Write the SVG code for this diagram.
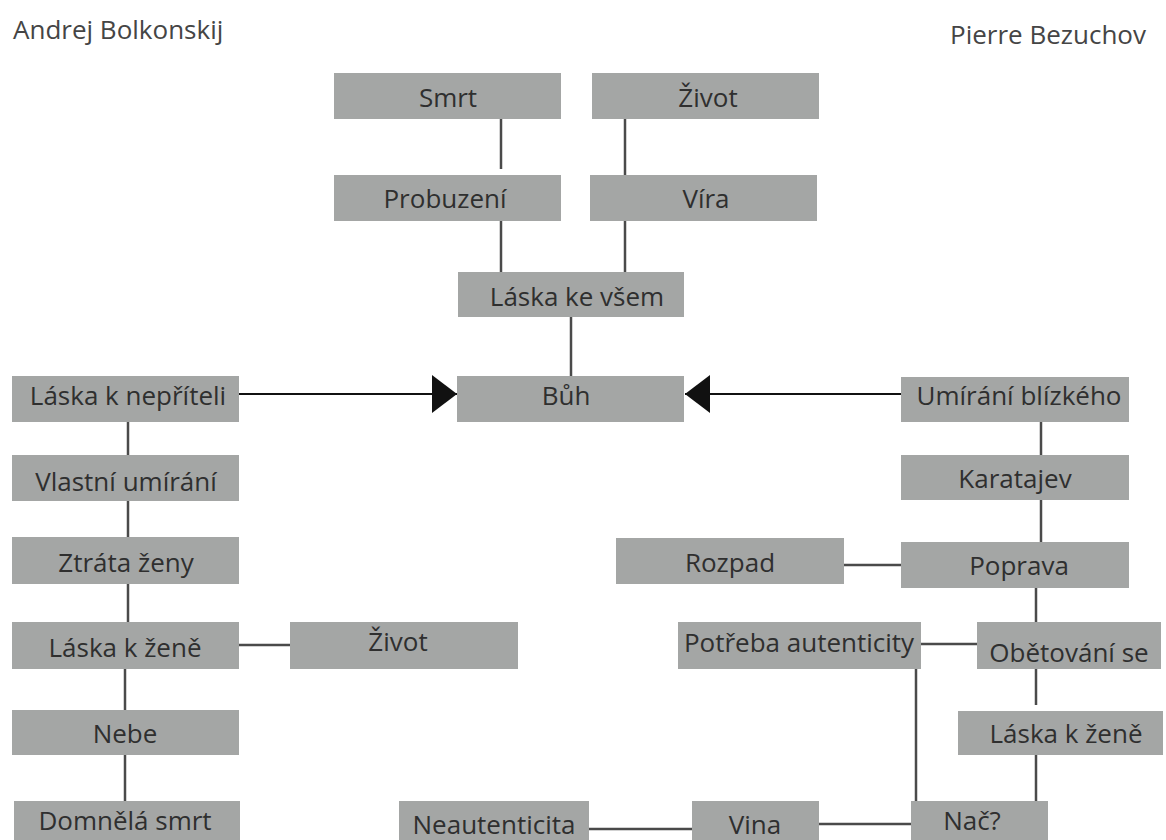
<svg xmlns="http://www.w3.org/2000/svg" width="1166" height="840" viewBox="0 0 1166 840">
  <style>
    .box { fill: #a4a6a5; }
    .lbl { font-family: "Open Sans", "Noto Sans", sans-serif; font-size: 26px; fill: #2f2f2f; text-anchor: middle; }
    .head { font-family: "Open Sans", "Noto Sans", sans-serif; font-size: 26px; fill: #454545; }
    .link { stroke: #4a4a4a; stroke-width: 2.5; fill: none; }
    .arrow { stroke: #111; stroke-width: 2; fill: none; }
  </style>
  <defs>
    <marker id="tri" viewBox="0 0 25 38" refX="25" refY="19" markerWidth="25" markerHeight="38" markerUnits="userSpaceOnUse" orient="auto">
      <path d="M0,0 L25,19 L0,38 Z" fill="#111"/>
    </marker>
  </defs>
  <rect width="1166" height="840" fill="#ffffff"/>

  <!-- headings -->
  <text class="head" x="13" y="39">Andrej Bolkonskij</text>
  <text class="head" x="950" y="44">Pierre Bezuchov</text>

  <!-- connectors -->
  <g id="connectors">
    <line class="link" x1="501" y1="119" x2="501" y2="169"/>
    <line class="link" x1="625" y1="119" x2="625" y2="175"/>
    <line class="link" x1="501" y1="221" x2="501" y2="272"/>
    <line class="link" x1="625" y1="221" x2="625" y2="272"/>
    <line class="link" x1="571" y1="317" x2="571" y2="376"/>

    <line class="arrow" x1="239" y1="394" x2="457" y2="394" marker-end="url(#tri)"/>
    <line class="arrow" x1="901" y1="394" x2="685" y2="394" marker-end="url(#tri)"/>

    <line class="link" x1="128" y1="422" x2="128" y2="455"/>
    <line class="link" x1="128" y1="501" x2="128" y2="537"/>
    <line class="link" x1="128" y1="584" x2="128" y2="622"/>
    <line class="link" x1="125" y1="669" x2="125" y2="710"/>
    <line class="link" x1="125" y1="755" x2="125" y2="801"/>
    <line class="link" x1="239" y1="645" x2="290" y2="645"/>

    <line class="link" x1="1041" y1="422" x2="1041" y2="455"/>
    <line class="link" x1="1041" y1="500" x2="1041" y2="542"/>
    <line class="link" x1="844" y1="565" x2="901" y2="565"/>
    <line class="link" x1="1036" y1="588" x2="1036" y2="622"/>
    <line class="link" x1="921" y1="644" x2="977" y2="644"/>
    <line class="link" x1="1036" y1="669" x2="1036" y2="705"/>
    <line class="link" x1="1036" y1="755" x2="1036" y2="801"/>
    <line class="link" x1="916" y1="669" x2="916" y2="801"/>
    <line class="link" x1="819" y1="824" x2="911" y2="824"/>
    <line class="link" x1="589" y1="829" x2="692" y2="829"/>
  </g>

  <!-- top branch -->
  <g id="smrt"><rect class="box" x="334" y="73" width="227" height="46"/><text class="lbl" x="448" y="107">Smrt</text></g>
  <g id="zivot-top"><rect class="box" x="592" y="73" width="227" height="46"/><text class="lbl" x="708" y="107">Život</text></g>
  <g id="probuzeni"><rect class="box" x="334" y="175" width="227" height="46"/><text class="lbl" x="445" y="208">Probuzení</text></g>
  <g id="vira"><rect class="box" x="590" y="175" width="227" height="46"/><text class="lbl" x="706" y="208">Víra</text></g>
  <g id="laska-ke-vsem"><rect class="box" x="458" y="272" width="226" height="45"/><text class="lbl" x="577" y="306">Láska ke všem</text></g>
  <g id="buh"><rect class="box" x="457" y="376" width="227" height="46"/><text class="lbl" x="566" y="405">Bůh</text></g>

  <!-- left column -->
  <g id="laska-k-nepriteli"><rect class="box" x="12" y="376" width="227" height="46"/><text class="lbl" x="128" y="405">Láska k nepříteli</text></g>
  <g id="vlastni-umirani"><rect class="box" x="12" y="455" width="227" height="46"/><text class="lbl" x="126" y="491">Vlastní umírání</text></g>
  <g id="ztrata-zeny"><rect class="box" x="12" y="537" width="227" height="47"/><text class="lbl" x="126" y="572">Ztráta ženy</text></g>
  <g id="laska-k-zene-left"><rect class="box" x="12" y="622" width="227" height="47"/><text class="lbl" x="125" y="657">Láska k ženě</text></g>
  <g id="zivot-left"><rect class="box" x="290" y="622" width="228" height="47"/><text class="lbl" x="398" y="651">Život</text></g>
  <g id="nebe"><rect class="box" x="12" y="710" width="227" height="45"/><text class="lbl" x="125" y="743">Nebe</text></g>
  <g id="domnela-smrt"><rect class="box" x="14" y="801" width="226" height="46"/><text class="lbl" x="125" y="830">Domnělá smrt</text></g>

  <!-- right column -->
  <g id="umirani-blizkeho"><rect class="box" x="901" y="377" width="228" height="45"/><text class="lbl" x="1019" y="405">Umírání blízkého</text></g>
  <g id="karatajev"><rect class="box" x="901" y="455" width="228" height="45"/><text class="lbl" x="1015" y="488">Karatajev</text></g>
  <g id="rozpad"><rect class="box" x="616" y="538" width="228" height="46"/><text class="lbl" x="730" y="572">Rozpad</text></g>
  <g id="poprava"><rect class="box" x="901" y="542" width="228" height="46"/><text class="lbl" x="1019" y="575">Poprava</text></g>
  <g id="potreba-autenticity"><rect class="box" x="678" y="622" width="243" height="47"/><text class="lbl" x="799" y="652">Potřeba autenticity</text></g>
  <g id="obetovani-se"><rect class="box" x="977" y="622" width="184" height="47"/><text class="lbl" x="1069" y="662">Obětování se</text></g>
  <g id="laska-k-zene-right"><rect class="box" x="958" y="711" width="205" height="44"/><text class="lbl" x="1066" y="743">Láska k ženě</text></g>
  <g id="nac"><rect class="box" x="911" y="801" width="137" height="46"/><text class="lbl" x="972" y="830">Nač?</text></g>
  <g id="vina"><rect class="box" x="692" y="801" width="127" height="46"/><text class="lbl" x="755" y="834">Vina</text></g>
  <g id="neautenticita"><rect class="box" x="399" y="801" width="190" height="46"/><text class="lbl" x="494" y="834">Neautenticita</text></g>
</svg>
